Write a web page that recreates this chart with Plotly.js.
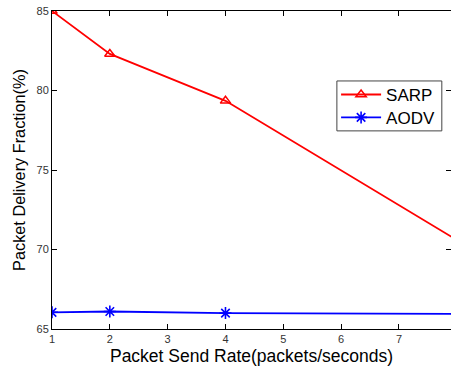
<!DOCTYPE html>
<html><head><meta charset="utf-8">
<script src="https://cdn.plot.ly/plotly-3.0.1.min.js"></script>
<style>html,body{margin:0;padding:0;background:#fff}#chart{width:451px;height:374px}</style>
</head><body><div id="chart"></div>
<script>
const rates = [1, 2, 4, 8];
const sarp = [85.0, 82.3, 79.35, 70.6];
const aodv = [66.05, 66.1, 66.0, 65.95];
const xTicks = [1, 2, 3, 4, 5, 6, 7];
const yTicks = [65, 70, 75, 80, 85];

const traces = [
  {x: rates, y: sarp, name: 'SARP', mode: 'lines+markers', type: 'scatter', legend: 'legend',
   line: {color: '#ff0000', width: 1.8},
   marker: {symbol: 'triangle-up-open', size: 9, color: '#ff0000', line: {width: 1.5, color: '#ff0000'}}},
  {x: rates, y: aodv, name: 'AODV', mode: 'lines+markers', type: 'scatter', legend: 'legend2',
   line: {color: '#0000ff', width: 1.8},
   marker: {symbol: 'asterisk-open', size: 10, color: '#0000ff', line: {width: 1.6, color: '#0000ff'}}}
];

const axisCommon = {
  showgrid: false, zeroline: false, showline: true, linecolor: '#000', linewidth: 1,
  ticks: 'inside', ticklen: 5, tickcolor: '#000', mirror: 'ticks',
  tickfont: {family: 'Liberation Sans, Arial', size: 11, color: '#333'}
};

const legendCommon = {
  xanchor: 'left', yanchor: 'middle', borderwidth: 0, bgcolor: 'rgba(0,0,0,0)',
  itemwidth: 40,
  font: {family: 'Liberation Sans, Arial', size: 17, color: '#000'}
};

const layout = {
  width: 451, height: 374,
  margin: {l: 52, r: 0, t: 11, b: 45},
  paper_bgcolor: '#fff', plot_bgcolor: '#fff',
  showlegend: true,
  legend: Object.assign({}, legendCommon, {x: 0.712, y: 0.736}),
  legend2: Object.assign({}, legendCommon, {x: 0.712, y: 0.664}),
  shapes: [{type: 'rect', xref: 'paper', yref: 'paper', x0: 0.714, x1: 0.977, y0: 0.623, y1: 0.780,
    line: {color: '#444', width: 1}, fillcolor: '#fff', layer: 'above'}],
  xaxis: Object.assign({}, axisCommon, {
    range: [1, 7.9], tickvals: xTicks, ticktext: xTicks.map(String),
    title: {text: 'Packet Send Rate(packets/seconds)', standoff: 5,
      font: {family: 'Liberation Sans, Arial', size: 17.5, color: '#000'}}
  }),
  yaxis: Object.assign({}, axisCommon, {
    range: [65, 85], tickvals: yTicks, ticktext: yTicks.map(String),
    title: {text: 'Packet Delivery Fraction(%)', standoff: 6,
      font: {family: 'Liberation Sans, Arial', size: 16.3, color: '#000'}}
  })
};

Plotly.newPlot('chart', traces, layout, {displayModeBar: false, staticPlot: true});
</script></body></html>
